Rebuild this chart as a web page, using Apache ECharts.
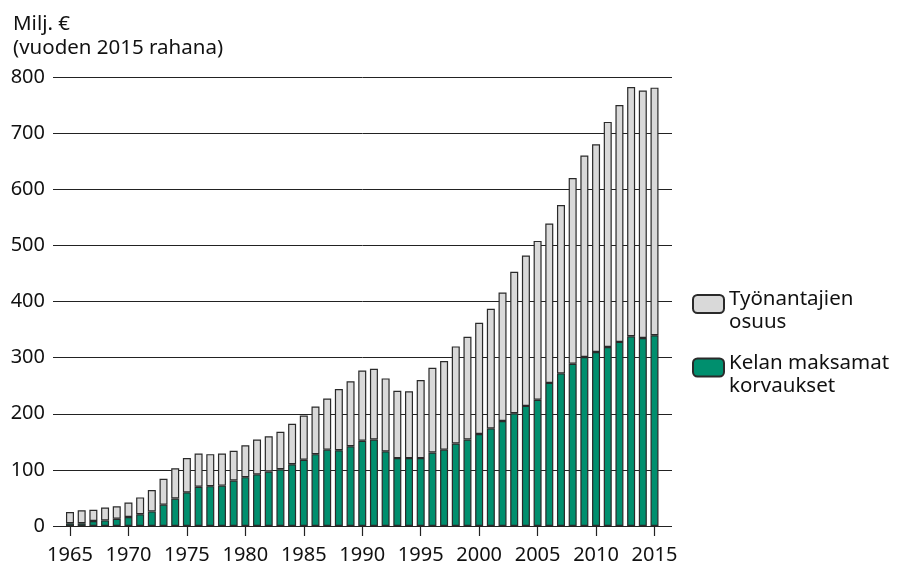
<!DOCTYPE html>
<html>
<head>
<meta charset="utf-8">
<script src="https://cdn.jsdelivr.net/npm/echarts@6/dist/echarts.min.js"></script>
<style>html,body{margin:0;padding:0;background:#fff}#c{width:897px;height:565px}</style>
</head>
<body>
<div id="c"></div>
<script>
var years = ['1965','1966','1967','1968','1969','1970','1971','1972','1973','1974','1975','1976','1977','1978','1979','1980','1981','1982','1983','1984','1985','1986','1987','1988','1989','1990','1991','1992','1993','1994','1995','1996','1997','1998','1999','2000','2001','2002','2003','2004','2005','2006','2007','2008','2009','2010','2011','2012','2013','2014','2015'];
var kelaName = 'Kelan maksamat\nkorvaukset';
var employerName = 'Työnantajien\nosuus';
var kela = [5,5,9,10,13,16,21,26,38,49,60,70,71,72,81,87,92,97,101,110,118,128,136,135,142,152,154,133,121,121,121,131,136,147,154,164,174,187,201,214,225,255,272,289,301,310,319,328,338,335,340];
var employer = [20,23,20,23,22,26,30,38,46,54,61,59,57,57,53,57,62,63,67,72,79,85,91,109,116,125,126,130,120,119,139,151,158,173,183,198,213,229,252,268,283,284,300,331,359,370,401,422,444,441,441];
var yMin = 0, yMax = 800, yStep = 100;
var titleText = 'Milj. €\n(vuoden 2015 rahana)';

var FONT = 'Noto Sans';
var FS = 20;
var chart = echarts.init(document.getElementById('c'), null, {renderer: 'canvas'});
chart.setOption({
  animation: false,
  textStyle: {fontFamily: FONT},
  title: {
    text: titleText, left: 8, top: 7,
    textStyle: {fontFamily: FONT, fontSize: 20.5, fontWeight: 'normal', color: '#111', lineHeight: 24}
  },
  legend: {
    data: [employerName, kelaName],
    orient: 'vertical', left: 692, top: 274, padding: 0,
    itemWidth: 31, itemHeight: 18, itemGap: 3.5,
    formatter: function (name) { return '{s| }\n' + name; },
    textStyle: {fontFamily: FONT, fontSize: 20.5, color: '#111', lineHeight: 23,
      rich: {s: {fontSize: 10, lineHeight: 14}}}
  },
  grid: [
    {left: 53, right: 225, top: 77, bottom: 39, containLabel: false},
    {left: 64.15, right: 236.65, top: 77, bottom: 39, containLabel: false}
  ],
  xAxis: [
    {gridIndex: 0, type: 'value', show: false, min: 0, max: 1},
    {gridIndex: 1, type: 'category', data: years, boundaryGap: true,
     axisLine: {show: true, onZero: false, lineStyle: {color: '#222', width: 1}},
     axisTick: {show: true, alignWithLabel: true, length: 10, interval: 4, lineStyle: {color: '#222', width: 1.2}},
     axisLabel: {interval: 4, fontFamily: FONT, fontSize: FS, color: '#111', margin: 19}
    }
  ],
  yAxis: [
    {gridIndex: 0, type: 'value', min: yMin, max: yMax, interval: yStep,
     axisLine: {show: false}, axisTick: {show: false},
     axisLabel: {fontFamily: FONT, fontSize: FS, color: '#111', margin: 8},
     splitLine: {show: true, lineStyle: {color: '#222', width: 1}}
    },
    {gridIndex: 1, type: 'value', min: yMin, max: yMax, interval: yStep, show: false, splitLine: {show: false}}
  ],
  series: [
    {name: kelaName, type: 'bar', stack: 't', xAxisIndex: 1, yAxisIndex: 1, data: kela, barWidth: 8,
     itemStyle: {color: '#008f6e', borderColor: '#2a2a2a', borderWidth: 1.2}},
    {name: employerName, type: 'bar', stack: 't', xAxisIndex: 1, yAxisIndex: 1, data: employer, barWidth: 8,
     itemStyle: {color: '#d9d9d9', borderColor: '#2a2a2a', borderWidth: 1.2}}
  ]
});
</script>
</body>
</html>
